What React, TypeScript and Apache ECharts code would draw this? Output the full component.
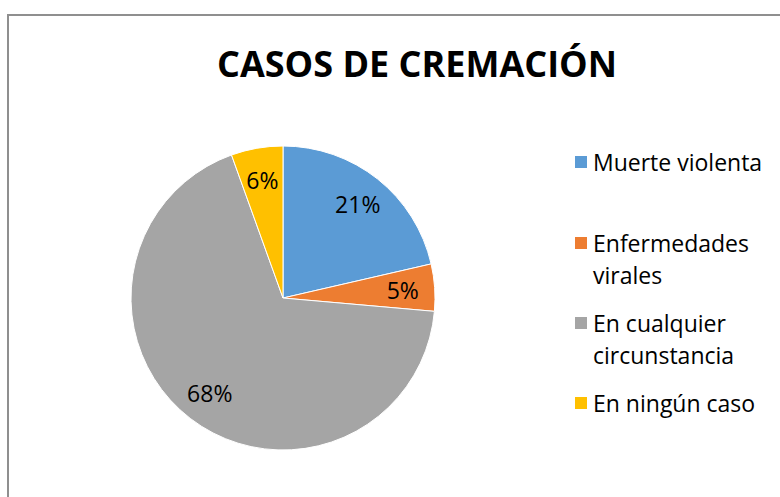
import React, { useEffect, useRef } from "react";
import * as echarts from "echarts";

const titleText = "CASOS DE CREMACIÓN";
const categories = ["Muerte violenta", "Enfermedades virales", "En cualquier circunstancia", "En ningún caso"];
const values = [21.4, 5.0, 68.1, 5.5];
const colors = ["#5B9BD5", "#ED7D31", "#A5A5A5", "#FFC000"];
const legendLines = [["Muerte violenta"], ["Enfermedades", "virales"], ["En cualquier", "circunstancia"], ["En ningún caso"]];
const legendFirstLineY = [162, 243, 323, 403];

const FONT = "'Open Sans', 'Noto Sans', sans-serif";

export default function App() {
  const ref = useRef<HTMLDivElement>(null);
  useEffect(() => {
    document.body.style.margin = "0";
    const chart = echarts.init(ref.current!, null, { renderer: "svg" });
    const data = categories.map((name, i) => ({ name, value: values[i], itemStyle: { color: colors[i] } }));
    const legends = categories.map((name, i) => {
      const lines = legendLines[i];
      const multi = lines.length > 1;
      return {
        data: [name],
        orient: "vertical",
        left: 573,
        top: multi ? legendFirstLineY[i] - 48 : legendFirstLineY[i] - 16,
        padding: 0,
        itemWidth: 14,
        itemHeight: 14,
        icon: "rect",
        selectedMode: false,
        formatter: () => (multi ? "\n" + lines.join("\n") : lines[0]),
        textStyle: { fontFamily: FONT, fontSize: 23, lineHeight: 32, color: "#000" },
      };
    });
    chart.setOption({
      animation: false,
      backgroundColor: "#fff",
      title: {
        text: titleText,
        left: 217,
        top: 38,
        padding: 0,
        textStyle: { fontFamily: FONT, fontSize: 36, fontWeight: "bold", color: "#000", lineHeight: 50 },
      },
      graphic: [
        {
          type: "rect",
          shape: { x: 8, y: 15, width: 820, height: 540 },
          style: { fill: "none", stroke: "#8f8f8f", lineWidth: 2 },
          silent: true,
        },
      ],
      legend: legends,
      series: [
        {
          type: "pie",
          center: [283, 298],
          radius: [0, 152],
          startAngle: 90,
          clockwise: true,
          silent: true,
          label: { show: false },
          labelLine: { show: false },
          itemStyle: { borderColor: "#fff", borderWidth: 1 },
          data,
        },
        {
          type: "pie",
          center: [283, 298],
          radius: [0, 234],
          startAngle: 90,
          clockwise: true,
          silent: true,
          legendHoverLink: false,
          labelLine: { show: false },
          itemStyle: { color: "rgba(0,0,0,0)", borderWidth: 0 },
          label: {
            show: true,
            position: "inside",
            fontFamily: FONT,
            fontSize: 23,
            color: "#000",
            formatter: (p: any) => Math.round(p.value) + "%",
          },
          data: categories.map((name, i) => ({ name, value: values[i], itemStyle: { color: "rgba(0,0,0,0)" } })),
        },
      ],
    });
    return () => chart.dispose();
  }, []);
  return <div ref={ref} style={{ width: 780, height: 497, position: "absolute", left: 0, top: 0 }} />;
}
